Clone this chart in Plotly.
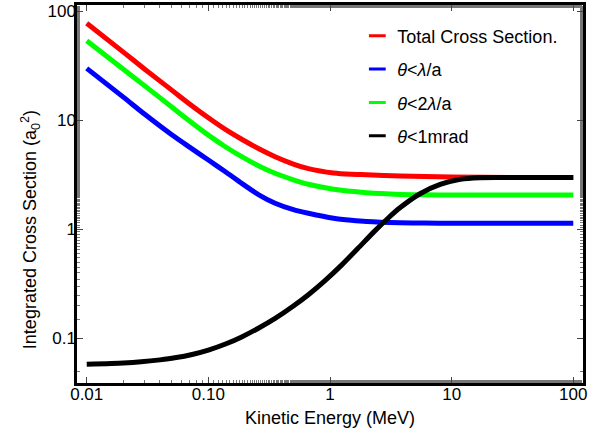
import plotly.graph_objects as go

# ---- data ----
energy_total = [0.01, 0.02, 0.03, 0.05, 0.07, 0.1, 0.14, 0.188, 0.26, 0.354, 0.5, 0.664, 1.07, 1.5, 2.0, 3.8, 6, 10, 30, 100]
total_cs = [78.0, 42.4, 29.6, 19.0, 14.2, 10.6, 8.2, 6.73, 5.51, 4.66, 3.99, 3.62, 3.30, 3.21, 3.18, 3.10, 3.06, 3.03, 3.0, 3.0]

energy_green = [0.01, 0.02, 0.03, 0.05, 0.07, 0.1, 0.14, 0.188, 0.26, 0.354, 0.5, 0.664, 1.07, 1.5, 2.0, 3.8, 6, 10, 30, 100]
cs_2lambda = [54.0, 29.5, 20.8, 13.3, 9.9, 7.35, 5.69, 4.66, 3.83, 3.28, 2.86, 2.60, 2.34, 2.24, 2.17, 2.10, 2.08, 2.07, 2.07, 2.07]

energy_blue = [0.01, 0.02, 0.03, 0.05, 0.07, 0.1, 0.14, 0.188, 0.26, 0.354, 0.5, 0.664, 1.07, 1.5, 2.0, 3.8, 6, 10, 30, 100]
cs_lambda = [30.1, 16.4, 11.4, 7.4, 5.7, 4.34, 3.35, 2.65, 2.08, 1.74, 1.52, 1.41, 1.27, 1.216, 1.183, 1.153, 1.145, 1.14, 1.14, 1.14]

energy_black = [0.01, 0.02, 0.028, 0.04, 0.053, 0.075, 0.1, 0.14, 0.188, 0.26, 0.354, 0.5, 0.664, 0.9, 1.25, 1.7, 2.35, 3.0, 3.78, 5.5, 8.05, 11.8, 17, 25, 50, 100]
cs_1mrad = [0.058, 0.0596, 0.0611, 0.0637, 0.0665, 0.0718, 0.0783, 0.0895, 0.1035, 0.125, 0.153, 0.1985, 0.252, 0.336, 0.474, 0.673, 0.977, 1.27, 1.59, 2.13, 2.59, 2.89, 2.99, 3.0, 3.0, 3.0]

series_names = ["Total Cross Section.",
                "<i>θ</i>&lt;<i>λ</i>/a",
                "<i>θ</i>&lt;2<i>λ</i>/a",
                "<i>θ</i>&lt;1mrad"]
series_colors = ["#ff0000", "#0000ff", "#00ff00", "#000000"]

x_tickvals = [0.01, 0.1, 1, 10, 100]
x_ticktext = ["0.01", "0.10", "1", "10", "100"]
y_tickvals = [0.1, 1, 10, 100]
y_ticktext = ["0.1", "1", "10", "100"]

FONT = "Liberation Sans, Arial, sans-serif"

fig = go.Figure()

# draw order: blue, green, red, black on top
curves = [
    (energy_blue, cs_lambda, 1),
    (energy_green, cs_2lambda, 2),
    (energy_total, total_cs, 0),
    (energy_black, cs_1mrad, 3),
]
for xs, ys, idx in curves:
    fig.add_trace(go.Scatter(
        x=xs, y=ys, mode="lines",
        line=dict(color=series_colors[idx], width=5, shape="spline", smoothing=0.6),
        showlegend=False, hoverinfo="skip",
    ))

# legend entries (short dash samples)
for i, (name, col) in enumerate(zip(series_names, series_colors)):
    fig.add_trace(go.Scatter(
        x=[None], y=[None], mode="markers", name=name,
        legendgroup=f"g{i}",
        marker=dict(symbol="line-ew", size=12, color=col,
                    line=dict(color=col, width=3)),
    ))

axis_common = dict(
    type="log", automargin=False,
    showline=True, linecolor="black", linewidth=2.5, mirror="allticks",
    ticks="inside", ticklen=6, tickwidth=1, tickcolor="#444",
    showgrid=False, zeroline=False,
    tickfont=dict(family=FONT, size=17, color="black"),
    minor=dict(ticks="inside", ticklen=3, tickwidth=1, tickcolor="#777", showgrid=False),
)

fig.update_xaxes(
    **axis_common,
    range=[-2.080, 2.080],
    tickvals=x_tickvals, ticktext=x_ticktext,
    ticklabelstandoff=-6,
    title=dict(text="Kinetic Energy (MeV)", font=dict(family=FONT, size=18, color="black"), standoff=9),
)
fig.update_yaxes(
    **axis_common,
    range=[-1.408, 2.060],
    tickvals=y_tickvals, ticktext=y_ticktext,
    ticklabelstandoff=-5,
)

fig.add_annotation(
    text="Integrated Cross Section (a<sub>0</sub><sup>2</sup>)",
    textangle=-90, xref="paper", yref="paper",
    x=-0.0929, y=0.407, xanchor="center", yanchor="middle",
    showarrow=False, font=dict(family=FONT, size=18, color="black"),
)

fig.update_layout(
    width=598, height=435,
    margin=dict(l=77, r=15, t=5, b=52),
    paper_bgcolor="white", plot_bgcolor="white",
    font=dict(family=FONT, color="black"),
    legend=dict(
        x=0.554, y=0.967, xanchor="left", yanchor="top",
        bgcolor="rgba(255,255,255,0)",
        font=dict(family=FONT, size=18, color="black"),
        traceorder="grouped", tracegroupgap=7,
    ),
)

fig.write_html("out.html", config={"displayModeBar": False},
               post_script="document.body.style.margin='0';")
